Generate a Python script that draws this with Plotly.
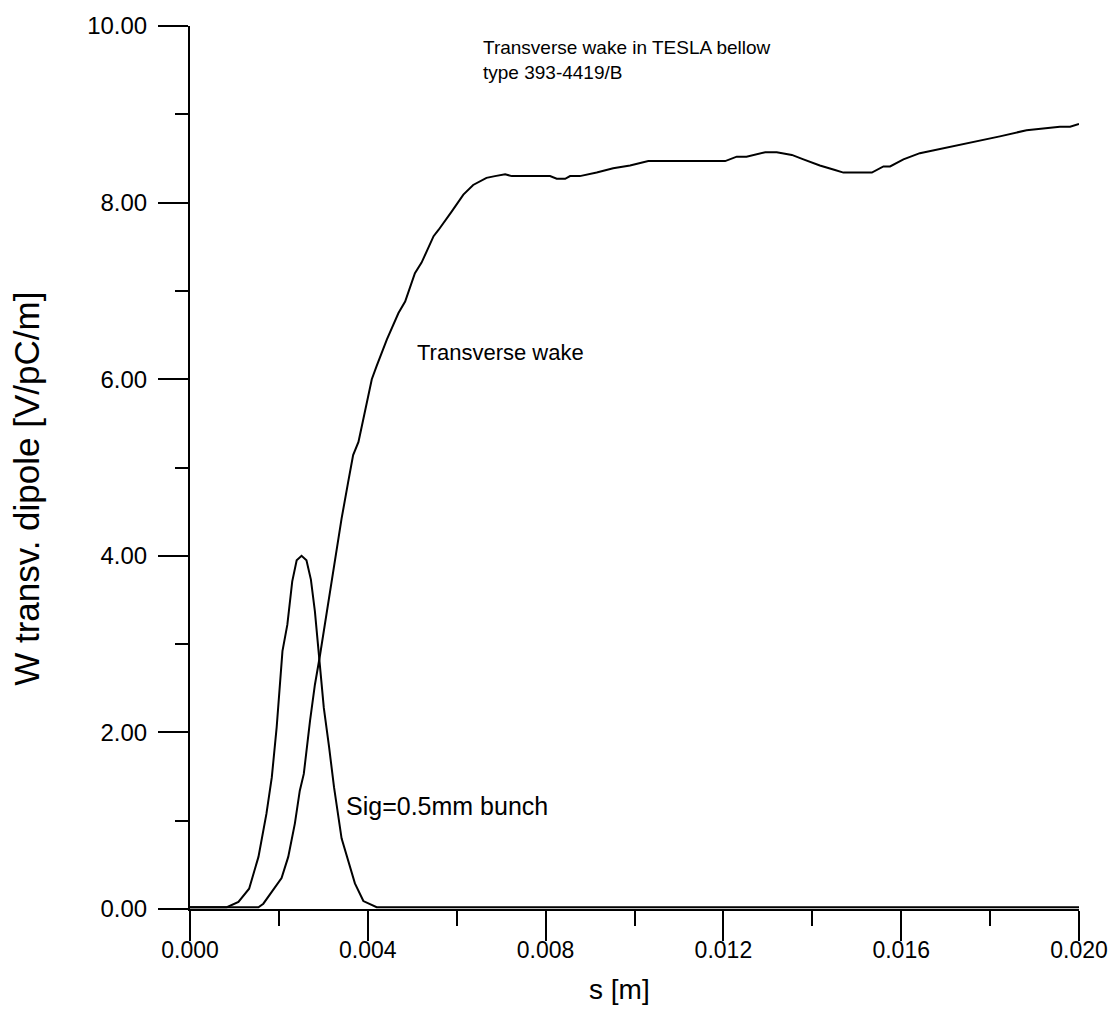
import plotly.graph_objects as go

# Bunch profile (Sig=0.5mm)
bunch_s = [0, 0.00083, 0.00109, 0.00133, 0.00154, 0.00172, 0.00184, 0.00195, 0.00208, 0.00219,
           0.00230, 0.00240, 0.00251, 0.00262, 0.00272, 0.00281, 0.00292, 0.00301, 0.00313, 0.00324,
           0.00341, 0.00356, 0.00371, 0.00390, 0.00420, 0.020]
bunch_w = [0.02, 0.02, 0.08, 0.23, 0.59, 1.08, 1.49, 2.06, 2.92, 3.22,
           3.71, 3.95, 4.00, 3.95, 3.73, 3.37, 2.77, 2.28, 1.83, 1.38,
           0.80, 0.55, 0.29, 0.09, 0.02, 0.02]

# Transverse wake
wake_s = [0, 0.00154, 0.00165, 0.00184, 0.00206, 0.00221, 0.00236, 0.00247, 0.00256, 0.00270,
          0.00281, 0.00292, 0.00308, 0.00320, 0.00334, 0.00341, 0.00356, 0.00367, 0.00379, 0.00394,
          0.00409, 0.00420, 0.00443, 0.00469, 0.00484, 0.00506, 0.00521, 0.00548, 0.00559, 0.00589,
          0.00615, 0.00637, 0.00652, 0.00667, 0.00686, 0.00709, 0.00724, 0.00810, 0.00825, 0.00844,
          0.00855, 0.00877, 0.00915, 0.00952, 0.00990, 0.01031, 0.01204, 0.01230, 0.01252, 0.01275,
          0.01294, 0.01320, 0.01354, 0.01380, 0.01417, 0.01451, 0.01470, 0.01534, 0.01560, 0.01575,
          0.01605, 0.01642, 0.01680, 0.01725, 0.01770, 0.01822, 0.01882, 0.01920, 0.01957, 0.01980,
          0.02000]
wake_w = [0.02, 0.02, 0.06, 0.20, 0.35, 0.59, 0.97, 1.34, 1.53, 2.13,
          2.54, 2.86, 3.37, 3.75, 4.24, 4.42, 4.84, 5.14, 5.29, 5.66,
          6.00, 6.15, 6.45, 6.75, 6.88, 7.20, 7.32, 7.62, 7.69, 7.90,
          8.09, 8.20, 8.24, 8.28, 8.30, 8.32, 8.30, 8.30, 8.27, 8.27,
          8.30, 8.30, 8.34, 8.39, 8.42, 8.47, 8.47, 8.52, 8.52, 8.55,
          8.57, 8.57, 8.54, 8.49, 8.42, 8.37, 8.34, 8.34, 8.41, 8.41,
          8.49, 8.56, 8.60, 8.64, 8.69, 8.75, 8.82, 8.84, 8.86, 8.86,
          8.89]

x_ticks = [0.000, 0.004, 0.008, 0.012, 0.016, 0.020]
y_ticks = [0, 2, 4, 6, 8, 10]

FONT = "Arial, Liberation Sans, sans-serif"

fig = go.Figure()
fig.add_trace(go.Scatter(x=bunch_s, y=bunch_w, mode="lines",
                         line=dict(color="black", width=2), showlegend=False))
fig.add_trace(go.Scatter(x=wake_s, y=wake_w, mode="lines",
                         line=dict(color="black", width=2), showlegend=False))

fig.update_layout(
    width=1120, height=1028,
    margin=dict(l=190, r=41, t=22, b=119),
    paper_bgcolor="white", plot_bgcolor="white",
    font=dict(family=FONT, color="black"),
    xaxis=dict(
        range=[0, 0.020], tickvals=x_ticks, tickformat=".3f",
        showgrid=False, zeroline=False,
        showline=True, linecolor="black", linewidth=2,
        ticks="outside", ticklen=30, tickwidth=2, tickcolor="black",
        tickfont=dict(size=23, family=FONT), ticklabelstandoff=-11,
        minor=dict(dtick=0.002, tick0=0, ticks="outside", ticklen=15, tickwidth=2, tickcolor="black"),
    ),
    yaxis=dict(
        range=[0, 10], tickvals=y_ticks, tickformat=".2f",
        showgrid=False, zeroline=False,
        showline=True, linecolor="black", linewidth=2,
        ticks="outside", ticklen=30, tickwidth=2, tickcolor="black",
        tickfont=dict(size=24, family=FONT), ticklabelstandoff=6,
        minor=dict(dtick=1, tick0=0, ticks="outside", ticklen=13, tickwidth=2, tickcolor="black"),
    ),
    annotations=[
        # axis titles
        dict(x=0.4826, y=-0.0913, xref="paper", yref="paper", xanchor="center", yanchor="middle",
             text="s [m]", showarrow=False, font=dict(size=28, family=FONT)),
        dict(x=-0.1834, y=0.4758, xref="paper", yref="paper", xanchor="center", yanchor="middle",
             text="W transv. dipole [V/pC/m]", textangle=-90, showarrow=False,
             font=dict(size=35, family=FONT)),
        # in-plot labels
        dict(x=0.00655, y=9.62, xref="x", yref="y", xanchor="left", yanchor="middle",
             text="Transverse wake in TESLA bellow<br>type 393-4419/B", align="left",
             showarrow=False, font=dict(size=19, family=FONT)),
        dict(x=0.00506, y=6.30, xref="x", yref="y", xanchor="left", yanchor="middle",
             text="Transverse wake", showarrow=False, font=dict(size=22, family=FONT)),
        dict(x=0.00347, y=1.17, xref="x", yref="y", xanchor="left", yanchor="middle",
             text="Sig=0.5mm bunch", showarrow=False, font=dict(size=25, family=FONT)),
    ],
)

fig.write_html("out.html")
